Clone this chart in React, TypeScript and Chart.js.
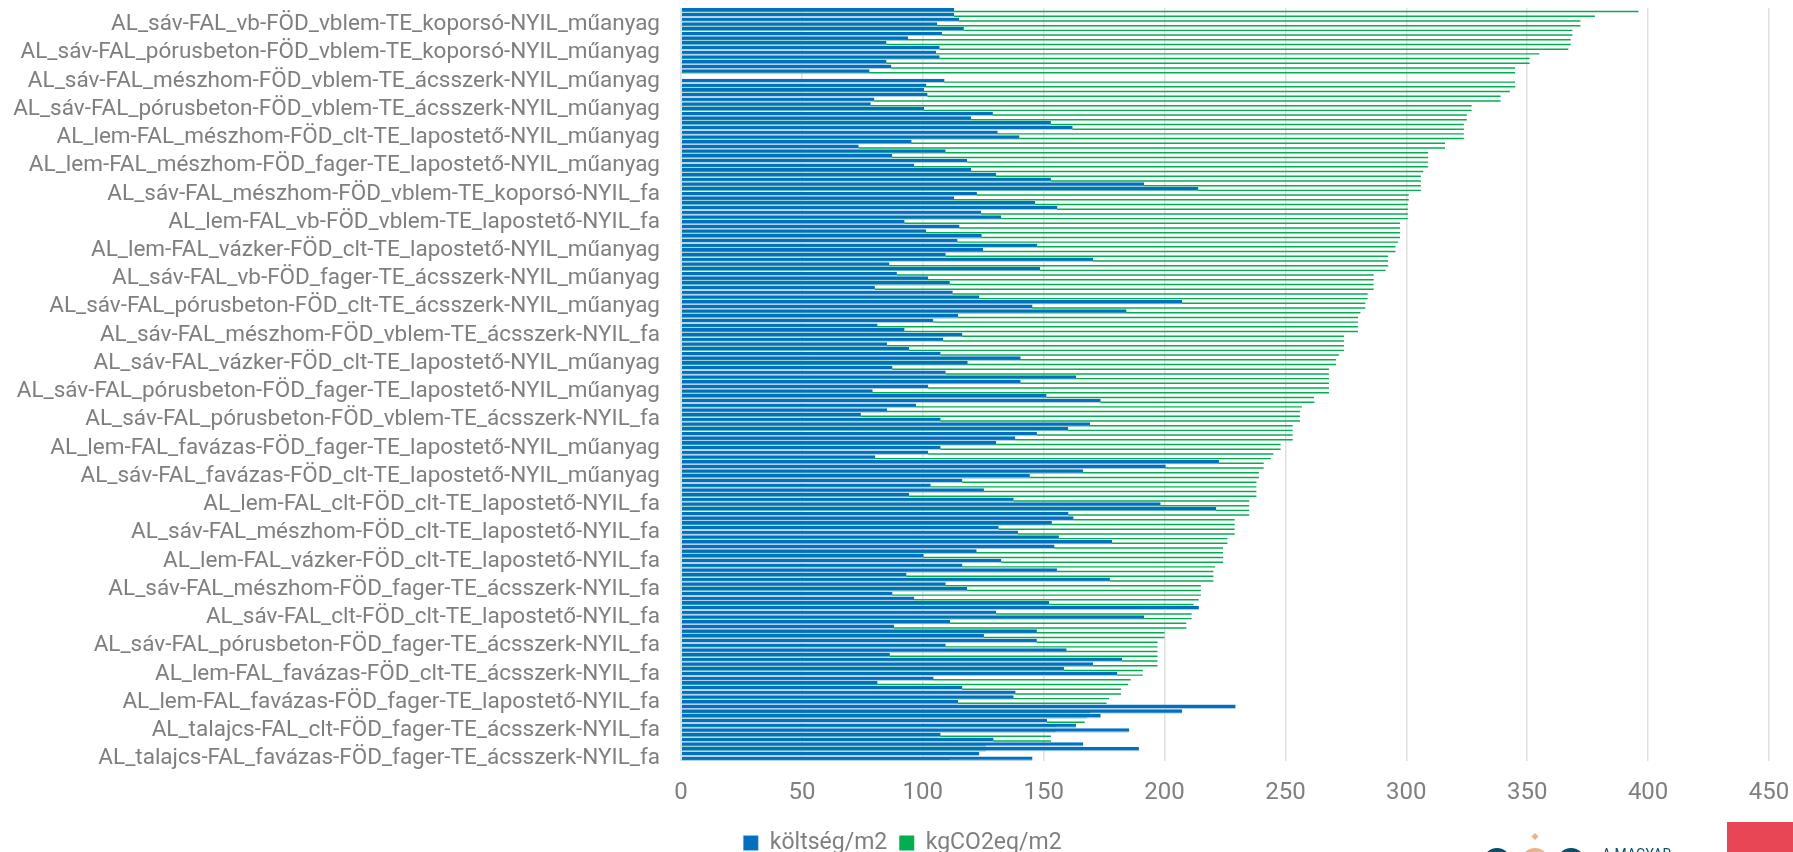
import React, { useEffect, useRef } from "react";
import { Chart, registerables } from "chart.js";

Chart.register(...registerables);

const shownLabels = [
  "AL_sáv-FAL_vb-FÖD_vblem-TE_koporsó-NYIL_műanyag",
  "AL_sáv-FAL_pórusbeton-FÖD_vblem-TE_koporsó-NYIL_műanyag",
  "AL_sáv-FAL_mészhom-FÖD_vblem-TE_ácsszerk-NYIL_műanyag",
  "AL_sáv-FAL_pórusbeton-FÖD_vblem-TE_ácsszerk-NYIL_műanyag",
  "AL_lem-FAL_mészhom-FÖD_clt-TE_lapostető-NYIL_műanyag",
  "AL_lem-FAL_mészhom-FÖD_fager-TE_lapostető-NYIL_műanyag",
  "AL_sáv-FAL_mészhom-FÖD_vblem-TE_koporsó-NYIL_fa",
  "AL_lem-FAL_vb-FÖD_vblem-TE_lapostető-NYIL_fa",
  "AL_lem-FAL_vázker-FÖD_clt-TE_lapostető-NYIL_műanyag",
  "AL_sáv-FAL_vb-FÖD_fager-TE_ácsszerk-NYIL_műanyag",
  "AL_sáv-FAL_pórusbeton-FÖD_clt-TE_ácsszerk-NYIL_műanyag",
  "AL_sáv-FAL_mészhom-FÖD_vblem-TE_ácsszerk-NYIL_fa",
  "AL_sáv-FAL_vázker-FÖD_clt-TE_lapostető-NYIL_műanyag",
  "AL_sáv-FAL_pórusbeton-FÖD_fager-TE_lapostető-NYIL_műanyag",
  "AL_sáv-FAL_pórusbeton-FÖD_vblem-TE_ácsszerk-NYIL_fa",
  "AL_lem-FAL_favázas-FÖD_fager-TE_lapostető-NYIL_műanyag",
  "AL_sáv-FAL_favázas-FÖD_clt-TE_lapostető-NYIL_műanyag",
  "AL_lem-FAL_clt-FÖD_clt-TE_lapostető-NYIL_fa",
  "AL_sáv-FAL_mészhom-FÖD_clt-TE_lapostető-NYIL_fa",
  "AL_lem-FAL_vázker-FÖD_clt-TE_lapostető-NYIL_fa",
  "AL_sáv-FAL_mészhom-FÖD_fager-TE_ácsszerk-NYIL_fa",
  "AL_sáv-FAL_clt-FÖD_clt-TE_lapostető-NYIL_fa",
  "AL_sáv-FAL_pórusbeton-FÖD_fager-TE_ácsszerk-NYIL_fa",
  "AL_lem-FAL_favázas-FÖD_clt-TE_ácsszerk-NYIL_fa",
  "AL_lem-FAL_favázas-FÖD_fager-TE_lapostető-NYIL_fa",
  "AL_talajcs-FAL_clt-FÖD_fager-TE_ácsszerk-NYIL_fa",
  "AL_talajcs-FAL_favázas-FÖD_fager-TE_ácsszerk-NYIL_fa",
];

const koltseg = [
  113, 113, 115, 106, 117, 108, 94, 85, 107, 105.5, 107, 85, 87, 78, null, 109, 101.5, 100.5, 102, 80,
  78.5, 100.5, 129, 120, 153, 162, 131, 140, 95.4, 73.5, 109.5, 87.4, 118.4, 96.5, 120, 130.4, 153, 191.5, 214, 122.4,
  113, 146.5, 155.7, 124.2, 132.5, 92.5, 115.2, 101.4, 124.4, 114.4, 147.4, 125, 109.5, 170.5, 86.2, 148.5, 89.3, 102.3, 111.2, 80.2,
  112.4, 123.4, 207.3, 145.4, 184.3, 114.6, 104.4, 81.3, 92.5, 116.4, 108.4, 85.3, 94.3, 107.4, 140.5, 118.6, 87.5, 109.5, 163.4, 140.5,
  102.3, 79.3, 151.2, 173.6, 97.2, 85.3, 74.4, 107.4, 169.2, 160.2, 147.2, 138.3, 130.3, 107.4, 102.3, 80.4, 222.5, 200.5, 166.4, 144.3,
  116.4, 103.3, 125.3, 94.3, 137.6, 198.4, 221.4, 160.3, 162.4, 153.4, 131.4, 139.4, 156.3, 178.3, 154.5, 122.3, 100.4, 132.5, 116.4, 155.5,
  93.3, 177.4, 109.5, 118.4, 87.5, 96.5, 152.3, 214.2, 130.3, 191.5, 111.3, 88.2, 147.2, 125.3, 147.2, 109.5, 159.5, 86.4, 182.5, 170.4,
  158.4, 180.5, 104.5, 81.3, 116.4, 138.4, 137.6, 114.6, 229.4, 207.3, 173.6, 151.4, 163.4, 185.4, 107.4, 129.3, 166.4, 189.4, 123.4, 145.4,
];

const kgCO2 = [
  396, 378, 372, 372, 368.7, 368.7, 368, 368, 367, 355, 351, 351, 345, 345, null, 345, 345, 342.8, 339, 339,
  327, 327, 325, 325, 323.8, 323.8, 323.8, 323.8, 316, 316, 309, 309, 309, 309, 307, 306, 306, 306, 306, 301,
  301, 300.6, 300.6, 300.6, 300.6, 297.4, 297.4, 297.4, 297.4, 296.6, 295.5, 295.5, 292.5, 292.5, 292.5, 291.4, 286.5, 286.5, 286.5, 286.5,
  284, 284, 283, 283, 281, 280, 280, 280, 280, 274.2, 274.2, 274.2, 274.2, 272.1, 270.9, 270.9, 268, 268, 268, 268,
  268, 268, 261.8, 262, 256.8, 256, 256, 256, 253, 253, 253, 253, 248, 248, 245, 244, 241, 241, 239, 239,
  238, 238, 238, 238, 235, 235, 235, 235, 229, 229, 229, 229, 226, 226, 224.2, 224.2, 224.2, 224.2, 220.9, 220.2,
  220.2, 220.2, 215, 215, 215, 214.1, 212, 211.2, 211.2, 211.2, 209, 209, 200, 200, 197.1, 197.1, 197.1, 197.1, 197.1, 197.1,
  191, 191, 186, 184.9, 182, 182, 177, 176, 170.3, 169.2, 168, 167, 155, 155, 153, 153, 126.1, 126.1, 111.3, 111.3,
];

const rowLabels = koltseg.map((_, i) => (i % 6 === 3 ? shownLabels[(i - 3) / 6] : ""));
const spacer = koltseg.map(() => null);
const xMax = 450;
const xStep = 50;
const FONT = "Roboto";
const GREY = "#7f7f7f";

const moveLegend = {
  id: "moveLegend",
  afterLayout(chart: any) {
    const l = chart.legend;
    l.left += 18; l.right += 18;
    const dy = 842 - ((l.top + l.bottom) / 2);
    l.top += dy; l.bottom += dy;
  },
};

export default function App() {
  const ref = useRef<HTMLCanvasElement>(null);
  useEffect(() => {
    const chart = new Chart(ref.current!, {
      type: "bar",
      plugins: [moveLegend],
      data: {
        labels: rowLabels,
        datasets: [
          {
            label: "költség/m2", data: koltseg, backgroundColor: "#0070c0", grouped: false,
            borderColor: "#b4cfe0", borderWidth: { bottom: 1.2 }, borderSkipped: false,
            barPercentage: 0.96, categoryPercentage: 1,
          },
          { label: "", data: spacer, backgroundColor: "#fff", categoryPercentage: 1 },
          {
            label: "kgCO2eq/m2", data: kgCO2, backgroundColor: "#00b050",
            borderWidth: 0, barPercentage: 0.62, categoryPercentage: 1,
          },
        ],
      },
      options: {
        indexAxis: "y",
        animation: false,
        responsive: false,
        devicePixelRatio: 1,
        layout: { padding: { top: 8, right: 24, left: 0, bottom: 0 } },
        scales: {
          x: {
            min: 0,
            max: xMax,
            ticks: { stepSize: xStep, color: GREY, font: { family: FONT, size: 24 }, padding: 18 },
            grid: { color: "#e0e0e0", lineWidth: 1.5, drawTicks: false },
            border: { display: false },
            afterFit: (s: any) => { s.height = 46; s.paddingLeft = 0; s.paddingRight = 0; },
          },
          y: {
            ticks: {
              autoSkip: false,
              color: GREY,
              padding: 21,
              font: { family: FONT, size: 22.5 },
              callback: (_v: any, i: number) => rowLabels[i],
            },
            grid: { display: false, drawTicks: false },
            border: { display: false },
            afterFit: (s: any) => { s.width = 681; s.paddingTop = 0; s.paddingBottom = 0; },
          },
        },
        plugins: {
          tooltip: { enabled: false },
          legend: {
            position: "bottom",
            labels: {
              boxWidth: 15, boxHeight: 15, color: GREY, padding: 12, font: { family: FONT, size: 23 },
              filter: (item: any) => item.text !== "",
            },
          },
        },
      },
    });
    return () => chart.destroy();
  }, []);
  return (
    <div style={{ position: "absolute", left: 0, top: 0, width: 1793, height: 852, overflow: "hidden", background: "#fff" }}>
      <canvas ref={ref} width={1793} height={852} style={{ display: "block" }} />
      <svg width={1793} height={852} style={{ position: "absolute", left: 0, top: 0, pointerEvents: "none" }}>
        <rect x={1727} y={822} width={66} height={30} fill="#e84654" />
        <circle cx={1497} cy={862} r={14} fill="#0b4f6c" />
        <circle cx={1535} cy={862} r={14} fill="#e9b48a" />
        <circle cx={1571} cy={862} r={14} fill="#0b4f6c" />
        <rect x={1532.5} y={834} width={5} height={5} fill="#e9b48a" transform="rotate(45 1535 836.5)" />
        <text x={1602} y={859} fontFamily="Roboto" fontSize={14} fill="#0b4f6c">A MAGYAR</text>
      </svg>
    </div>
  );
}
